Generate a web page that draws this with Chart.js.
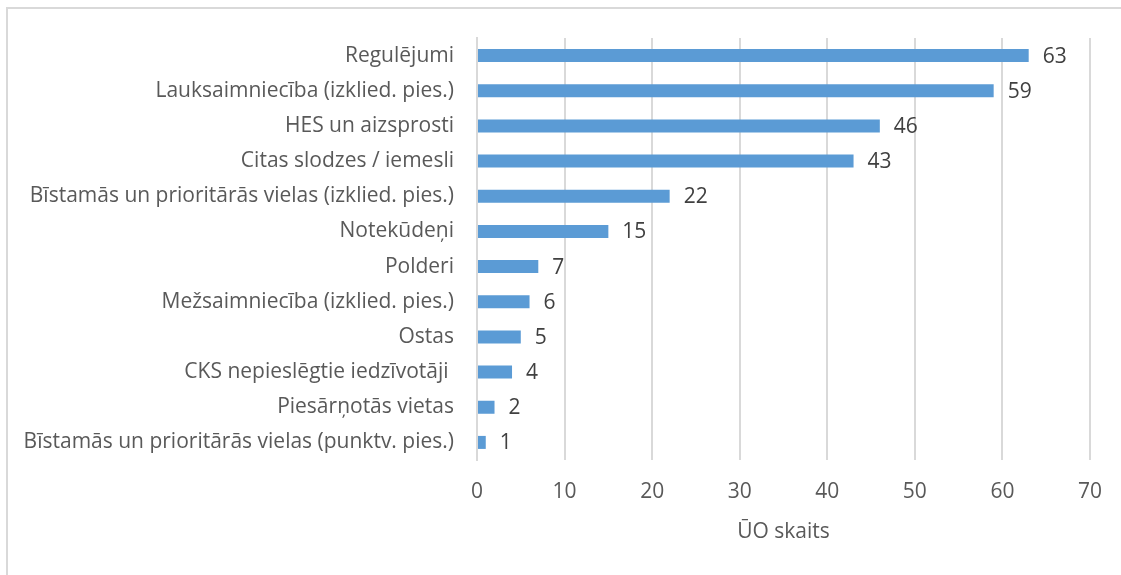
<!DOCTYPE html>
<html>
<head>
<meta charset="utf-8">
<script src="https://cdn.jsdelivr.net/npm/chart.js@4/dist/chart.umd.min.js"></script>
<style>
  html, body { margin: 0; padding: 0; background: #fff; overflow: hidden; }
  .frame {
    position: absolute; left: 6px; top: 7px; width: 1200px; height: 700px;
    border: 2px solid #d9d9d9;
  }
  .wrap { position: absolute; left: 0; top: 0; width: 1121px; height: 575px; }
</style>
</head>
<body>
<div class="frame"></div>
<div class="wrap"><canvas id="barChart"></canvas></div>
<script>
const categories = [
  "Regulējumi",
  "Lauksaimniecība (izklied. pies.)",
  "HES un aizsprosti",
  "Citas slodzes / iemesli",
  "Bīstamās un prioritārās vielas (izklied. pies.)",
  "Notekūdeņi",
  "Polderi",
  "Mežsaimniecība (izklied. pies.)",
  "Ostas",
  "CKS nepieslēgtie iedzīvotāji ",
  "Piesārņotās vietas",
  "Bīstamās un prioritārās vielas (punktv. pies.)",
];
const counts = [63, 59, 46, 43, 22, 15, 7, 6, 5, 4, 2, 1];
const xTicks = [0, 10, 20, 30, 40, 50, 60, 70];
const axisTitle = "ŪO skaits";

const fontFamily = "'Open Sans', sans-serif";
const fontSize = 21;

// value labels to the right of each bar
const valueLabelPlugin = {
  id: "valueLabels",
  afterDatasetsDraw(chart) {
    const { ctx } = chart;
    const meta = chart.getDatasetMeta(0);
    ctx.save();
    ctx.font = `${fontSize}px ${fontFamily}`;
    ctx.fillStyle = "#404040";
    ctx.textAlign = "left";
    ctx.textBaseline = "middle";
    meta.data.forEach((bar, i) => {
      ctx.fillText(String(counts[i]), bar.x + 14, bar.y + 1);
    });
    ctx.restore();
  },
};

const ctx = document.getElementById("barChart").getContext("2d");
const barChart = new Chart(ctx, {
  type: "bar",
  data: {
    labels: categories,
    datasets: [
      {
        data: counts,
        backgroundColor: "#5b9bd5",
        borderWidth: 0,
        barPercentage: 0.74,
        categoryPercentage: 0.5,
      },
    ],
  },
  options: {
    indexAxis: "y",
    responsive: true,
    maintainAspectRatio: false,
    animation: false,
    layout: {
      padding: { top: 38, right: 30, bottom: 30, left: 0 },
    },
    scales: {
      x: {
        min: 0,
        max: 70,
        afterBuildTicks(scale) {
          scale.ticks = xTicks.map((v) => ({ value: v }));
        },
        afterFit(scale) {
          scale.height = 85;
        },
        grid: {
          color: "#d9d9d9",
          lineWidth: 2,
          drawTicks: false,
        },
        border: { display: false },
        ticks: {
          padding: 19,
          color: "#595959",
          font: { family: fontFamily, size: fontSize },
        },
        title: {
          display: true,
          text: axisTitle,
          color: "#595959",
          padding: { top: 0, bottom: 0 },
          font: { family: fontFamily, size: fontSize },
        },
      },
      y: {
        afterFit(scale) {
          scale.width = 477;
        },
        grid: { display: false, drawTicks: false },
        border: { display: true, color: "#d9d9d9", width: 2 },
        ticks: {
          padding: 23,
          color: "#595959",
          font: { family: fontFamily, size: fontSize },
        },
      },
    },
    plugins: {
      legend: { display: false },
      tooltip: { enabled: false },
    },
  },
  plugins: [valueLabelPlugin],
});
</script>
</body>
</html>
